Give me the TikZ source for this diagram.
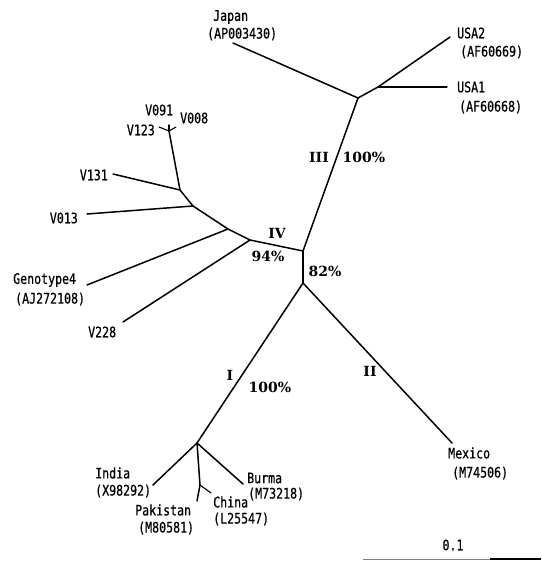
\documentclass[tikz,border=0pt]{standalone}
\usepackage{fontspec}
\newfontfamily\leaffont[FakeStretch=0.8,FakeBold=0.6]{DejaVu Sans Mono}
\newfontfamily\cladefont{DejaVu Serif}
\begin{document}
\begin{tikzpicture}[x=1pt,y=-1pt,
  branch/.style={line width=1.5pt,line cap=round,line join=round},
  twig/.style={line width=1.1pt,line cap=round},
  leaf/.style={inner sep=0pt,font=\leaffont\fontsize{14.5}{14.5}\selectfont},
  clade/.style={inner sep=0pt,font=\cladefont\bfseries\fontsize{14}{14}\selectfont}]
\useasboundingbox (0,0) rectangle (541,562);
% internal nodes
\coordinate (c) at (303,251);
\coordinate (b) at (303,283);
\coordinate (n3) at (358,98);
\coordinate (usa) at (378,87);
\coordinate (n4) at (250,240);
\coordinate (g4n) at (228,229);
\coordinate (v013n) at (193,206);
\coordinate (v131n) at (180,190);
\coordinate (vtop) at (169,131);
\coordinate (n1) at (197,443);
\coordinate (pc) at (200,485);
% tips
\coordinate (tJapan) at (233,43);
\coordinate (tUSA2) at (450,37);
\coordinate (tUSA1) at (447,87);
\coordinate (tV228) at (123,322);
\coordinate (tG4) at (87,285);
\coordinate (tV013) at (87,214);
\coordinate (tV131) at (113,174);
\coordinate (tV123) at (159,127);
\coordinate (tV091) at (169,125);
\coordinate (tV008) at (176,127);
\coordinate (tIndia) at (153,485);
\coordinate (tBurma) at (243,484);
\coordinate (tChina) at (211,493);
\coordinate (tPak) at (197,501);
\coordinate (tMexico) at (452,443);
% branches
\draw[branch] (c) -- (b);
\draw[branch] (c) -- (n3);
\draw[branch] (n3) -- (tJapan);
\draw[branch] (n3) -- (usa);
\draw[branch] (usa) -- (tUSA2);
\draw[twig] (usa) -- (tUSA1);
\draw[branch] (c) -- (n4);
\draw[branch] (n4) -- (tV228);
\draw[branch] (n4) -- (g4n) -- (v013n) -- (v131n) -- (vtop);
\draw[branch] (g4n) -- (tG4);
\draw[branch] (v013n) -- (tV013);
\draw[branch] (v131n) -- (tV131);
\draw[twig] (vtop) -- (tV123);
\draw[twig] (vtop) -- (tV091);
\draw[twig] (vtop) -- (tV008);
\draw[branch] (b) -- (n1);
\draw[branch] (b) -- (tMexico);
\draw[branch] (n1) -- (tIndia);
\draw[branch] (n1) -- (tBurma);
\draw[branch] (n1) -- (pc);
\draw[twig] (pc) -- (tChina);
\draw[branch] (pc) -- (tPak);
% leaf labels
\node[leaf,anchor=west] (lJapan) at (213,17) {Japan};
\node[leaf,anchor=west] (aJapan) at (207,34) {(AP003430)};
\node[leaf,anchor=west] (lUSA2) at (457,33) {USA2};
\node[leaf,anchor=west] (aUSA2) at (460,52) {(AF60669)};
\node[leaf,anchor=west] (lUSA1) at (457,87) {USA1};
\node[leaf,anchor=west] (aUSA1) at (459,107) {(AF60668)};
\node[leaf,anchor=west] (lV091) at (145,110) {V091};
\node[leaf,anchor=west] (lV008) at (180,118) {V008};
\node[leaf,anchor=east] (lV123) at (155,130) {V123};
\node[leaf,anchor=east] (lV131) at (108,175) {V131};
\node[leaf,anchor=east] (lV013) at (78,218) {V013};
\node[leaf,anchor=west] (lG4) at (13,280) {Genotype4};
\node[leaf,anchor=west] (aG4) at (15,299) {(AJ272108)};
\node[leaf,anchor=west] (lV228) at (88,332) {V228};
\node[leaf,anchor=west] (lIndia) at (95,473) {India};
\node[leaf,anchor=west] (aIndia) at (95,491) {(X98292)};
\node[leaf,anchor=west] (lPak) at (135,510) {Pakistan};
\node[leaf,anchor=west] (aPak) at (138,528) {(M80581)};
\node[leaf,anchor=west] (lChina) at (213,502) {China};
\node[leaf,anchor=west] (aChina) at (213,519) {(L25547)};
\node[leaf,anchor=west] (lBurma) at (247,478) {Burma};
\node[leaf,anchor=west] (aBurma) at (248,494) {(M73218)};
\node[leaf,anchor=west] (lMexico) at (448,453) {Mexico};
\node[leaf,anchor=west] (aMexico) at (452,473) {(M74506)};
% clade labels
\node[clade] (kIII) at (319,157) {III};
\node[clade] (pIII) at (364,157) {100\%};
\node[clade] (kIV) at (277,233) {IV};
\node[clade] (pIV) at (268,256) {94\%};
\node[clade] (p82) at (325,271) {82\%};
\node[clade] (kI) at (230,375) {I};
\node[clade] (pI) at (270,387) {100\%};
\node[clade] (kII) at (370,371) {II};
% scale bar
\node[leaf] (scale) at (453,545) {0.1};
\coordinate (s0) at (363,559);
\coordinate (s1) at (490,559);
\coordinate (s2) at (541,559);
\draw[gray,line width=0.8pt] (s0) -- (s1);
\draw[line width=1.6pt] (s1) -- (s2);
\end{tikzpicture}
\end{document}
